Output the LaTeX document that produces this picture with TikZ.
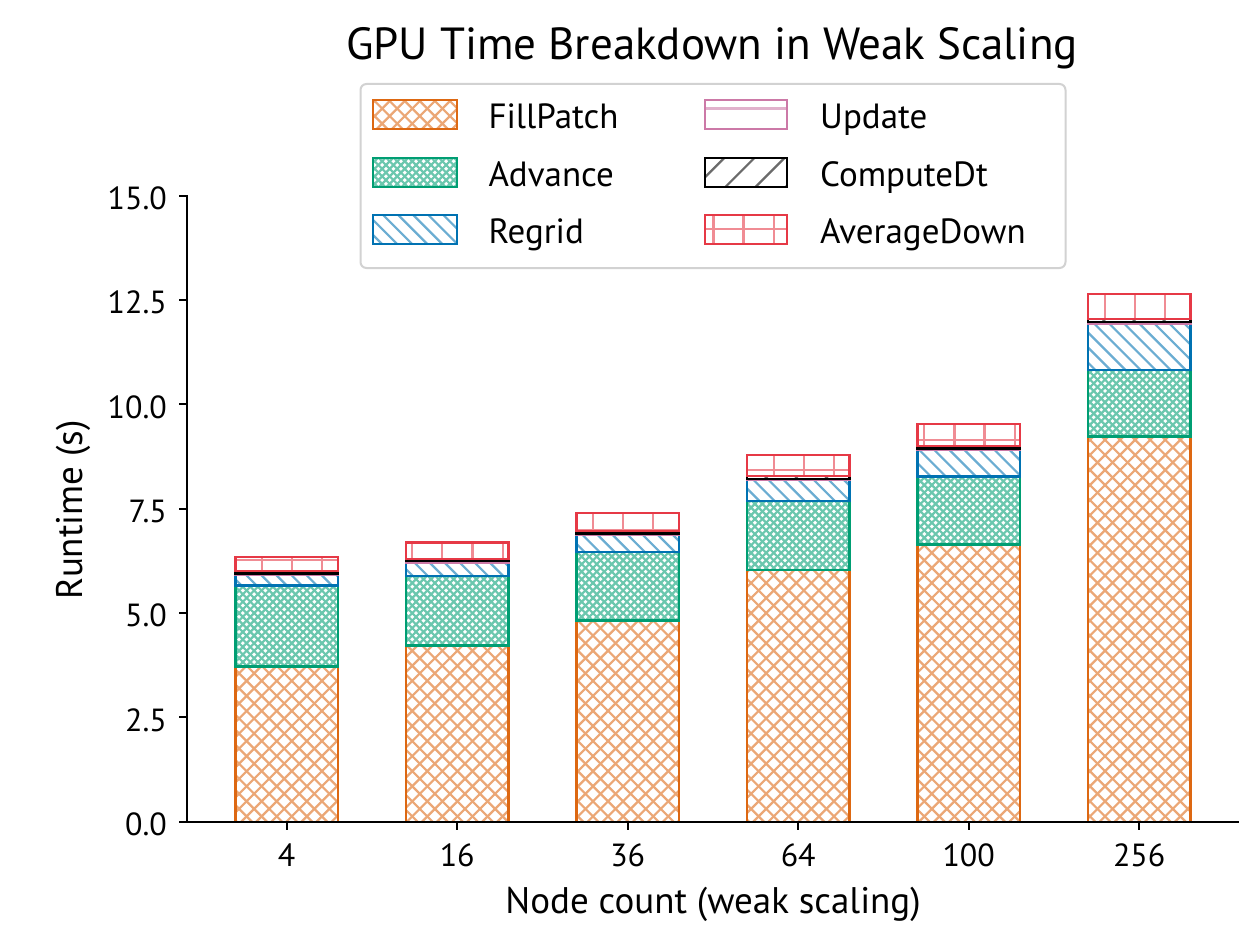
\documentclass[tikz,border=0pt]{standalone}
\usepackage{fontspec}
\setmainfont{PT Sans}
\definecolor{cFP}{RGB}{221,104,18}
\definecolor{cAdv}{RGB}{0,158,115}
\definecolor{cReg}{RGB}{0,114,178}
\definecolor{cUpd}{RGB}{204,121,167}
\definecolor{cAD}{RGB}{230,57,70}
\definecolor{cFrame}{RGB}{210,210,210}

\tikzset{
  hatchline/.style={draw=#1!58!white, line width=2.2pt},
  edgeline/.style={draw=#1, line width=2.3pt},
  txt/.style={inner sep=0pt, font=\fontsize{32}{38}\selectfont},
  legtxt/.style={inner sep=0pt, font=\fontsize{35}{40}\selectfont},
  labtxt/.style={inner sep=0pt, font=\fontsize{37}{42}\selectfont},
  spine/.style={line width=2pt, line cap=rect},
  tickmark/.style={line width=2pt},
}

% hatch families, tiled from a common origin; #1 spacing, #2 x0, #3 ytop, #4 x1, #5 ybot, #6 style
\newcommand\hatchNE[6]{%
  \pgfmathtruncatemacro\kmin{floor((#2+#3-38.9)/#1)-1}%
  \pgfmathtruncatemacro\kmax{ceil((#4+#5-38.9)/#1)+1}%
  \foreach \k in {\kmin,...,\kmax}{%
    \pgfmathsetmacro\cc{38.9+\k*#1}%
    \draw[#6] ({\cc-#5-3},{#5+3}) -- ({\cc-#3+3},{#3-3});}}
\newcommand\hatchNW[6]{%
  \pgfmathtruncatemacro\kmin{floor((#2-#5-2.5)/#1)-1}%
  \pgfmathtruncatemacro\kmax{ceil((#4-#3-2.5)/#1)+1}%
  \foreach \k in {\kmin,...,\kmax}{%
    \pgfmathsetmacro\cc{2.5+\k*#1}%
    \draw[#6] ({\cc+#3-3},{#3-3}) -- ({\cc+#5+3},{#5+3});}}
\newcommand\hatchH[6]{%
  \pgfmathtruncatemacro\kmin{floor((#3-18.2)/#1)}%
  \pgfmathtruncatemacro\kmax{ceil((#5-18.2)/#1)}%
  \foreach \k in {\kmin,...,\kmax}{%
    \pgfmathsetmacro\cc{18.2+\k*#1}%
    \draw[#6] ({#2-3},\cc) -- ({#4+3},\cc);}}
\newcommand\hatchV[6]{%
  \pgfmathtruncatemacro\kmin{floor((#2-20.7)/#1)}%
  \pgfmathtruncatemacro\kmax{ceil((#4-20.7)/#1)}%
  \foreach \k in {\kmin,...,\kmax}{%
    \pgfmathsetmacro\cc{20.7+\k*#1}%
    \draw[#6] (\cc,{#3-3}) -- (\cc,{#5+3});}}

% hatch kinds: #1 x0, #2 ytop, #3 x1, #4 ybot, #5 colour
\newcommand\hxx[5]{\hatchNE{15.06}{#1}{#2}{#3}{#4}{hatchline=#5}\hatchNW{15.06}{#1}{#2}{#3}{#4}{hatchline=#5}}
\newcommand\hxxxx[5]{\hatchNE{7.53}{#1}{#2}{#3}{#4}{hatchline=#5}\hatchNW{7.53}{#1}{#2}{#3}{#4}{hatchline=#5}}
\newcommand\hbs[5]{\hatchNW{15.06}{#1}{#2}{#3}{#4}{hatchline=#5}}
\newcommand\hfs[5]{\hatchNE{30.12}{#1}{#2}{#3}{#4}{hatchline=#5}}
\newcommand\hdash[5]{\hatchH{30.12}{#1}{#2}{#3}{#4}{hatchline=#5}}
\newcommand\hplus[5]{\hatchH{30.12}{#1}{#2}{#3}{#4}{hatchline=#5}\hatchV{30.12}{#1}{#2}{#3}{#4}{hatchline=#5}}

% hatched rectangle with its edge: #1 x0, #2 ytop, #3 x1, #4 ybot, #5 colour, #6 hatch kind
\newcommand\hatchrect[6]{%
  \begin{scope}\clip (#1,#2) rectangle (#3,#4); #6{#1}{#2}{#3}{#4}{#5}\end{scope}%
  \draw[edgeline=#5] (#1,#2) rectangle (#3,#4);}

% one bar segment in data units: #1 centre x, #2 low, #3 high, #4 colour, #5 hatch kind
\newcommand\barseg[5]{%
  \pgfmathsetmacro\xa{#1-51.15}\pgfmathsetmacro\xb{#1+51.15}%
  \pgfmathsetmacro\ya{821.7-41.73*#3}\pgfmathsetmacro\yb{821.7-41.73*#2}%
  \hatchrect{\xa}{\ya}{\xb}{\yb}{#4}{#5}}

% a stacked bar: centre x and the six cumulative tops
\newcommand\stackbar[7]{%
  \barseg{#1}{0}{#2}{cFP}{\hxx}%
  \barseg{#1}{#2}{#3}{cAdv}{\hxxxx}%
  \barseg{#1}{#3}{#4}{cReg}{\hbs}%
  \barseg{#1}{#4}{#5}{cUpd}{\hdash}%
  \barseg{#1}{#5}{#6}{black}{\hfs}%
  \barseg{#1}{#6}{#7}{cAD}{\hplus}}

\begin{document}
\begin{tikzpicture}[x=1pt, y=-1pt]
\useasboundingbox[fill=white] (0,0) rectangle (1255,931);

% bars
\stackbar{286.7}{3.72}{5.66}{5.92}{5.95}{6.01}{6.35}
\stackbar{457.2}{4.22}{5.88}{6.21}{6.24}{6.30}{6.69}
\stackbar{627.7}{4.82}{6.47}{6.88}{6.91}{6.97}{7.40}
\stackbar{798.2}{6.04}{7.68}{8.19}{8.22}{8.28}{8.79}
\stackbar{968.7}{6.64}{8.27}{8.91}{8.94}{9.01}{9.53}
\stackbar{1139.2}{9.23}{10.82}{11.94}{11.97}{12.05}{12.65}

% axes
\coordinate (o) at (187.3,821.7);
\coordinate (ytop) at (187.3,195.7);
\coordinate (xend) at (1238,821.7);
\draw[spine] (ytop) -- (o) -- (xend);

% y ticks
\foreach \v/\lab [count=\i] in {0/0.0,2.5/2.5,5/5.0,7.5/7.5,10/10.0,12.5/12.5,15/15.0}{
  \pgfmathsetmacro\yy{821.7-41.73*\v}
  \coordinate (yt\i) at (187.3,\yy);
  \draw[tickmark] (yt\i) -- ++(-8.5,0);
  \node[txt, anchor=base east] (ylab\i) at (167,{\yy+13.8}) {\lab};
}

% x ticks
\foreach \xx/\lab [count=\i] in {286.7/4,457.2/16,627.7/36,798.2/64,968.7/100,1139.2/256}{
  \coordinate (xt\i) at (\xx,821.7);
  \draw[tickmark] (xt\i) -- ++(0,8.5);
  \node[txt, anchor=base] (xlab\i) at (\xx,866.7) {\lab};
}

% axis labels and title
\node[labtxt, anchor=base] (xtitle) at (713,913.3) {Node count (weak scaling)};
\node[labtxt, anchor=base, rotate=90] (ytitle) at (82,510) {Runtime (s)};
\node[inner sep=0pt, anchor=base, font=\fontsize{45}{52}\selectfont] (title) at (712,60) {GPU Time Breakdown in Weak Scaling};

% legend
\draw[draw=cFrame, line width=2pt, fill=white, rounded corners=6pt] (360.5,84) rectangle (1065.5,268);
\hatchrect{373.3}{100}{456.7}{129.3}{cFP}{\hxx}
\hatchrect{373.3}{157.7}{456.7}{186.7}{cAdv}{\hxxxx}
\hatchrect{373.3}{215}{456.7}{244}{cReg}{\hbs}
\hatchrect{705}{100}{787.3}{129.3}{cUpd}{\hdash}
\hatchrect{705}{157.7}{787.3}{186.7}{black}{\hfs}
\hatchrect{705}{215}{787.3}{244}{cAD}{\hplus}
\node[legtxt, anchor=base west] (lgFP) at (488.3,128.3) {FillPatch};
\node[legtxt, anchor=base west] (lgAdv) at (488.3,186) {Advance};
\node[legtxt, anchor=base west] (lgReg) at (488.3,243.3) {Regrid};
\node[legtxt, anchor=base west] (lgUpd) at (820,128.3) {Update};
\node[legtxt, anchor=base west] (lgCDt) at (820,186) {ComputeDt};
\node[legtxt, anchor=base west] (lgAD) at (820,243.3) {AverageDown};
\end{tikzpicture}
\end{document}
